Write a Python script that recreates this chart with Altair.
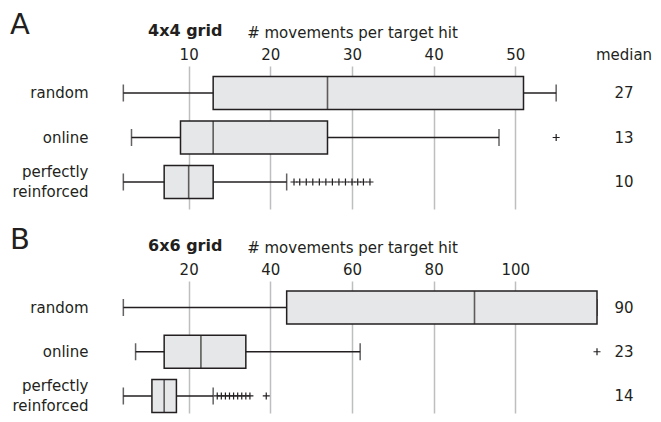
import altair as alt
import pandas as pd

rows = ["random", "online", "perfectly\nreinforced"]

# Panel A (4x4 grid)
a_lo = [2, 3, 2]
a_q1 = [13, 9, 7]
a_med = [27, 13, 10]
a_q3 = [51, 27, 13]
a_hi = [55, 48, 22]
a_out_online = [55]
a_out_perfect = [22.9, 23.6, 24.4, 25.2, 26.0, 26.8, 27.6, 28.4, 29.2, 30.0, 30.7, 31.4, 32.2]
a_ticks = [10, 20, 30, 40, 50]

# Panel B (6x6 grid)
b_lo = [4, 7, 4]
b_q1 = [44, 14, 11]
b_med = [90, 23, 14]
b_q3 = [120, 34, 17]
b_hi = [120, 62, 26]
b_out_online = [120]
b_out_perfect = [27, 28, 29, 30, 31, 32, 33, 34, 35, 39]
b_ticks = [20, 40, 60, 80, 100]

INK = "#231f20"
FILL = "#e6e7e8"
GRID = "#bcbec0"
W = 490
MED_X = 517


def panel(letter, grid_title, lo, q1, med, q3, hi, out_online, out_perfect, ticks, xmax,
          height, y_scale, show_header):
    df = pd.DataFrame({"row": rows, "lo": lo, "q1": q1, "med": med, "q3": q3, "hi": hi})
    outs = pd.DataFrame(
        {"row": [rows[1]] * len(out_online) + [rows[2]] * len(out_perfect),
         "v": out_online + out_perfect}
    )
    xscale = alt.Scale(domain=[0, xmax], nice=False, zero=False)
    yenc = alt.Y(
        "row:N", sort=rows, title=None,
        scale=y_scale,
        axis=alt.Axis(
            labelExpr="split(datum.label, '\\n')", labelFontSize=15, labelColor=INK,
            labelPadding=19, ticks=False, domain=False, labelLineHeight=20,
            labelBaseline="middle", grid=False,
            labelOffset={"condition": {"test": "indexof(datum.value, 'reinforced') >= 0",
                                       "value": -10}, "value": 0},
        ),
    )
    base = alt.Chart(df)
    whisk = base.mark_rule(color=INK, strokeWidth=1.5).encode(
        x=alt.X(
            "lo:Q", scale=xscale, title="# movements per target hit",
            axis=alt.Axis(
                orient="top", values=ticks, grid=True, gridColor=GRID, gridWidth=1.5,
                ticks=False, domain=False, labelFontSize=15, labelColor=INK,
                labelPadding=4, titleFontSize=15, titleFontWeight="normal",
                titleColor=INK, titlePadding=7,
            ),
        ),
        x2="hi:Q",
        y=yenc,
    )
    box = base.mark_bar(fill=FILL, stroke=INK, strokeWidth=1.5).encode(
        x="q1:Q", x2="q3:Q", y=yenc
    )
    median = base.mark_tick(color=INK, size=33, thickness=1.6, orient="vertical").encode(
        x="med:Q", y=yenc
    )
    cap_lo = base.mark_tick(color=INK, size=17, thickness=1.5, orient="vertical").encode(
        x="lo:Q", y=yenc
    )
    cap_hi = base.mark_tick(color=INK, size=17, thickness=1.5, orient="vertical").encode(
        x="hi:Q", y=yenc
    )
    outliers = alt.Chart(outs).mark_point(
        shape="M-1,0L1,0M0,-1L0,1", size=49, stroke=INK, strokeWidth=1.2, filled=False, opacity=1
    ).encode(x="v:Q", y=yenc)
    med_txt = base.mark_text(fontSize=15, color=INK, align="center", baseline="middle").encode(
        x=alt.value(MED_X), y=yenc, text="med:Q"
    )
    letter_txt = alt.Chart(pd.DataFrame({"t": [letter]})).mark_text(
        fontSize=29, color=INK, align="left", baseline="middle"
    ).encode(x=alt.value(-97), y=alt.value(-41), text="t:N")
    grid_txt = alt.Chart(pd.DataFrame({"t": [grid_title]})).mark_text(
        fontSize=16, fontWeight="bold", color=INK, align="left", baseline="middle"
    ).encode(x=alt.value(41), y=alt.value(-35), text="t:N")
    layers = [whisk, cap_lo, cap_hi, box, median, outliers, med_txt, letter_txt, grid_txt]
    if show_header:
        med_head = alt.Chart(pd.DataFrame({"t": ["median"]})).mark_text(
            fontSize=15, color=INK, align="center", baseline="middle"
        ).encode(x=alt.value(MED_X), y=alt.value(-11), text="t:N")
        layers.append(med_head)
    return alt.layer(*layers).properties(width=W, height=height)


pa = panel("A", "4x4 grid", a_lo, a_q1, a_med, a_q3, a_hi, a_out_online, a_out_perfect,
           a_ticks, 60, 143, alt.Scale(paddingInner=0.258, paddingOuter=0.236), True)
pb = panel("B", "6x6 grid", b_lo, b_q1, b_med, b_q3, b_hi, b_out_online, b_out_perfect,
           b_ticks, 120, 132, alt.Scale(paddingInner=0.253, paddingOuter=0.12, align=0.95), False)

chart = alt.vconcat(pa, pb, spacing=17).properties(
    padding={"left": 2, "top": 3, "right": 0, "bottom": 0}
).configure(font="DejaVu Sans").configure_view(stroke=None)

chart.save("out.html", embed_options={"renderer": "svg", "actions": False})
